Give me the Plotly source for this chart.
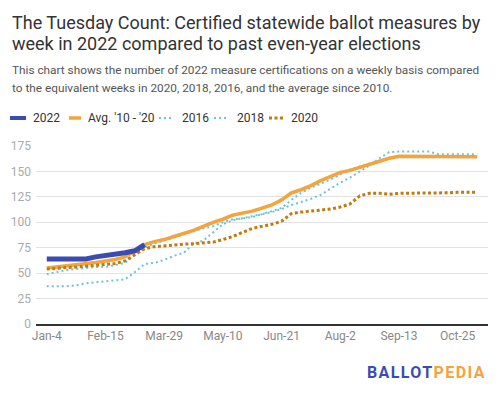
import plotly.graph_objects as go

weeks = ["Jan-4", "Jan-11", "Jan-18", "Jan-25", "Feb-1", "Feb-8", "Feb-15", "Feb-22",
         "Mar-1", "Mar-8", "Mar-15", "Mar-22", "Mar-29", "Apr-5", "Apr-12", "Apr-19",
         "Apr-26", "May-3", "May-10", "May-17", "May-24", "May-31", "Jun-7", "Jun-14",
         "Jun-21", "Jun-28", "Jul-5", "Jul-12", "Jul-19", "Jul-26", "Aug-2", "Aug-9",
         "Aug-16", "Aug-23", "Aug-30", "Sep-6", "Sep-13", "Sep-20", "Sep-27", "Oct-4",
         "Oct-11", "Oct-18", "Oct-25", "Nov-1", "Nov-8"]

tick_labels = ["Jan-4", "Feb-15", "Mar-29", "May-10", "Jun-21", "Aug-2", "Sep-13", "Oct-25"]
y_ticks = [0, 25, 50, 75, 100, 125, 150, 175]

v2022 = [64, 64, 64, 64, 64, 66, 67, 69, 70, 72, 78]

avg_10_20 = [55, 56, 57, 58, 59.5, 60.5, 62, 63.5, 66, 72, 78, 81, 83, 86, 89, 92,
             96, 100, 103, 107, 109, 111, 114, 117, 122, 129, 132, 136, 141, 145, 149,
             151, 154, 157, 160, 163, 165, 165, 165, 164.5, 164.5, 164.5, 164.5, 164.5, 164.5]

v2016 = [49, 51, 53, 54, 55, 56, 56, 58, 60, 68, 75, 79, 82, 85, 88, 91,
         94, 96, 100, 103, 104, 106, 108, 111, 114, 122, 129, 134, 138, 142, 147,
         152, 155, 157.5, 160, 163, 164, 164, 164, 164, 164, 164, 164, 164, 164]

v2018 = [37, 37, 37, 38, 40, 41, 42, 42.5, 44, 51, 59, 60, 63, 67, 70, 79,
         82, 90, 98, 102, 104, 105, 108, 110, 113, 117, 120, 123, 127, 133, 139,
         144, 150, 156, 163, 169, 169.5, 169.5, 169.5, 169.5, 167, 167, 167, 167, 167]

v2020 = [54, 55, 55.5, 56, 57, 58, 58.5, 59.5, 62, 68, 74, 76, 77, 78, 78.5, 79,
         80, 80.5, 83, 86, 90, 94, 96, 98, 101, 108.5, 110, 111, 112, 113, 115,
         118, 126, 128.5, 128.5, 127.5, 128.5, 128.5, 128.5, 128.5, 128.5, 129, 129.5, 129.5, 129.5]

series_names = ["2022", "Avg. '10 - '20", "2016", "2018", "2020"]

BLUE = "#3a4cb1"
ORANGE = "#f5a33c"
CYAN = "#6cc4d6"
BROWN = "#c27a10"

styles = {
    "2022": dict(color=BLUE, width=5),
    "Avg. '10 - '20": dict(color=ORANGE, width=3.5),
    "2016": dict(color=CYAN, width=2, dash="2px,3px"),
    "2018": dict(color=CYAN, width=2, dash="2px,3px"),
    "2020": dict(color=BROWN, width=3, dash="3px,2.5px"),
}

fig = go.Figure()
fig.add_trace(go.Scatter(x=weeks, y=v2016, name="2016", mode="lines", line=styles["2016"]))
fig.add_trace(go.Scatter(x=weeks, y=v2018, name="2018", mode="lines", line=styles["2018"]))
fig.add_trace(go.Scatter(x=weeks, y=avg_10_20, name="Avg. '10 - '20", mode="lines", line=styles["Avg. '10 - '20"]))
fig.add_trace(go.Scatter(x=weeks, y=v2020, name="2020", mode="lines", line=styles["2020"]))
fig.add_trace(go.Scatter(x=weeks[:len(v2022)], y=v2022, name="2022", mode="lines", line=styles["2022"]))

PL, PR, PT, PB = 36, 488, 146, 324


def xp(px):
    return (px - PL) / (PR - PL)


def yp(py):
    return (PB - py) / (PB - PT)


FONT = "Roboto, Arial, sans-serif"
anns = [
    dict(text="The Tuesday Count: Certified statewide ballot measures by", x=10, y=22, size=18, color="#333333"),
    dict(text="week in 2022 compared to past even-year elections", x=10, y=43, size=18, color="#333333"),
    dict(text="This chart shows the number of 2022 measure certifications on a weekly basis compared", x=10, y=70, size=11.8, color="#555555"),
    dict(text="to the equivalent weeks in 2020, 2018, 2016, and the average since 2010.", x=10, y=87.5, size=11.8, color="#555555"),
]
annotations = []
for a in anns:
    annotations.append(dict(text=a["text"], xref="paper", yref="paper",
                            x=xp(a["x"]), y=yp(a["y"]),
                            xanchor="left", yanchor="middle", showarrow=False,
                            font=dict(family=FONT, size=a["size"], color=a["color"])))

# custom legend (compact, like the reference)
legend_sym = {"2022": (10, 26), "Avg. '10 - '20": (69, 81), "2016": (159, 174),
              "2018": (214, 229), "2020": (269, 283)}
legend_txt = {"2022": 30.5, "Avg. '10 - '20": 85.5, "2016": 180, "2018": 235, "2020": 289}
LEG_Y = 118
shapes = []
for nm in series_names:
    x0, x1 = legend_sym[nm]
    st = styles[nm]
    shapes.append(dict(type="line", xref="paper", yref="paper", x0=xp(x0), x1=xp(x1),
                       y0=yp(LEG_Y), y1=yp(LEG_Y),
                       line=dict(color=st["color"], width=min(st["width"], 4), dash=st.get("dash", "solid"))))
    annotations.append(dict(text=nm, xref="paper", yref="paper", x=xp(legend_txt[nm]), y=yp(LEG_Y),
                            xanchor="left", yanchor="middle", showarrow=False,
                            font=dict(family=FONT, size=12, color="#333333")))

annotations.append(dict(
    text="<b><span style='color:#3a4cb1;letter-spacing:1.4px'>BALLOT</span><span style='color:#f5a33c;letter-spacing:1.4px'>PEDIA</span></b>",
    xref="paper", yref="paper", x=xp(488), y=yp(372),
    xanchor="right", yanchor="middle", showarrow=False,
    font=dict(family=FONT, size=16)))

fig.update_layout(
    template="none",
    width=500, height=395,
    margin=dict(l=PL, r=500 - PR, t=PT, b=395 - PB, pad=0, autoexpand=False),
    paper_bgcolor="white", plot_bgcolor="white",
    font=dict(family=FONT, size=12, color="#333333"),
    showlegend=False,
    annotations=annotations,
    shapes=shapes,
    xaxis=dict(type="category", categoryorder="array", categoryarray=weeks,
               range=[-1.1, 45.1], tickmode="array", tickvals=tick_labels, ticktext=tick_labels,
               showgrid=False, showline=True, linecolor="#333333", linewidth=1.5,
               ticks="", tickfont=dict(family=FONT, size=12, color="#888888"),
               zeroline=False, fixedrange=True, automargin=False),
    yaxis=dict(range=[0, 175], tickmode="array", tickvals=y_ticks,
               showgrid=True, gridcolor="#e3e3e3", gridwidth=1,
               showline=False, zeroline=False, ticks="",
               tickfont=dict(family=FONT, size=12, color="#aaaaaa"),
               ticklabelstandoff=4, fixedrange=True, automargin=False),
)

fig.write_html("out.html", config={"displayModeBar": False},
               post_script="document.body.style.margin='0px';document.body.style.overflow='hidden';")
